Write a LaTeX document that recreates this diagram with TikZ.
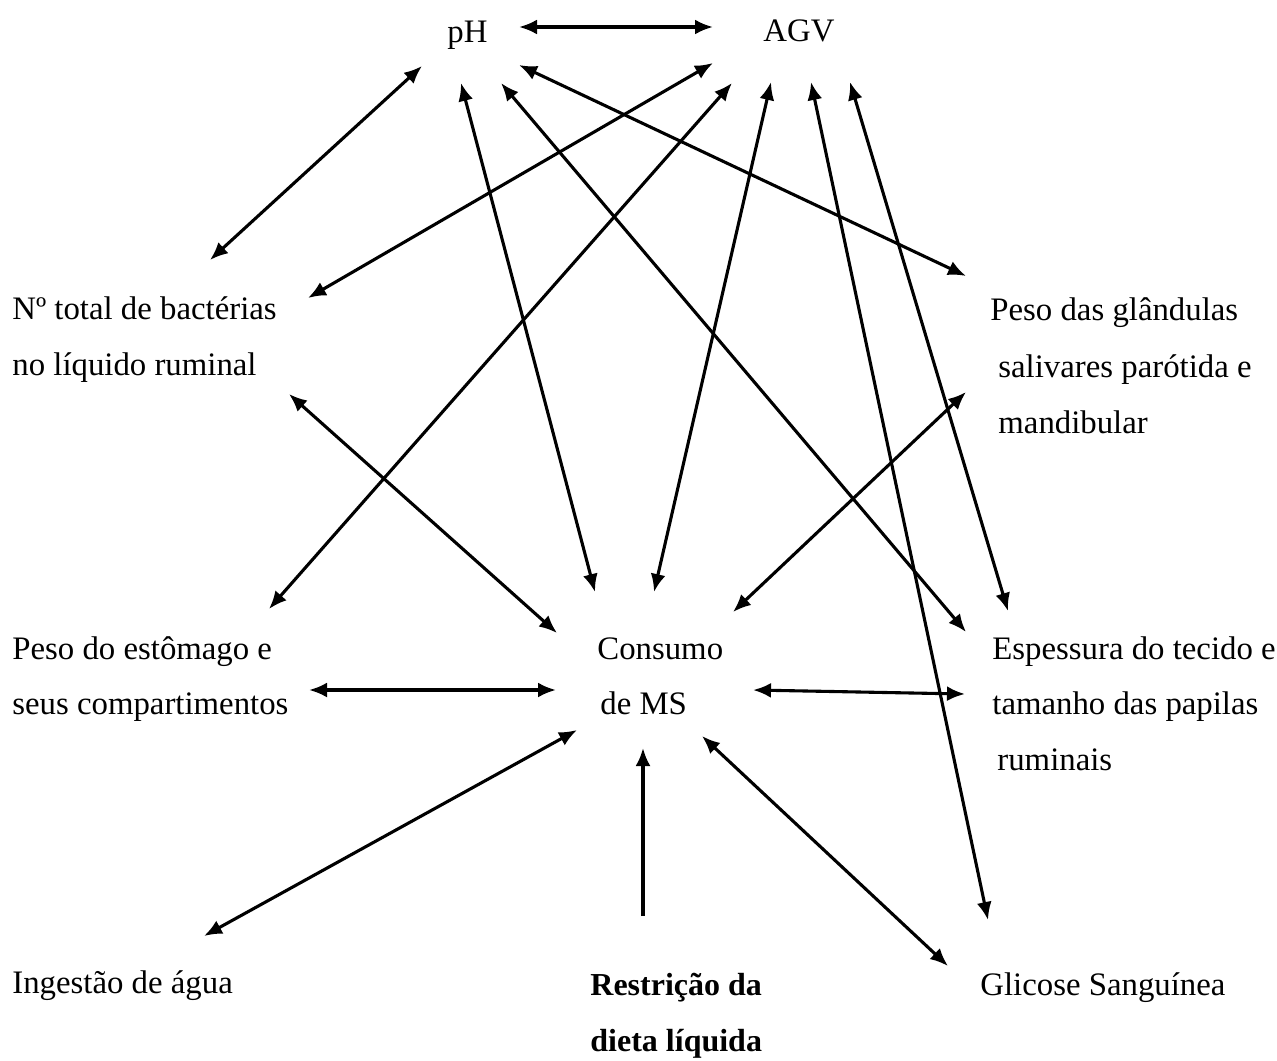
\documentclass[tikz,border=0pt]{standalone}
\usepackage{fontspec}
\setmainfont{Liberation Serif}
\usetikzlibrary{arrows.meta}
\tikzset{
  lbl/.style={inner sep=0pt, anchor=base west, font=\fontsize{16.4}{28}\selectfont},
  blbl/.style={lbl, font=\fontsize{16}{28}\selectfont\bfseries},
  ar/.style={line width=1.55pt, {Latex[length=9pt,width=7.5pt]}-{Latex[length=9pt,width=7.5pt]}},
  sar/.style={line width=1.55pt, -{Latex[length=9pt,width=7.5pt]}}
}
\begin{document}
\begin{tikzpicture}[x=0.5pt,y=-0.5pt]
\useasboundingbox (0,0) rectangle (1277,1060);
% labels
\node[lbl] (ph) at (447,42) {pH};
\node[lbl] (agv) at (763,41) {AGV};
\node[lbl] (nt1) at (12,319) {Nº total de bactérias};
\node[lbl] (nt2) at (12,375) {no líquido ruminal};
\node[lbl] (gl1) at (990,320) {Peso das glândulas};
\node[lbl] (gl2) at (998,377) {salivares parótida e};
\node[lbl] (gl3) at (998,433) {mandibular};
\node[lbl] (pe1) at (12,659) {Peso do estômago e};
\node[lbl] (pe2) at (12,714) {seus compartimentos};
\node[lbl] (cs1) at (597,659) {Consumo};
\node[lbl] (cs2) at (600,714) {de MS};
\node[lbl] (es1) at (992,659) {Espessura do tecido e};
\node[lbl] (es2) at (992,714) {tamanho das papilas};
\node[lbl] (es3) at (997,770) {ruminais};
\node[lbl] (ig) at (12,993) {Ingestão de água};
\node[blbl] (rd1) at (590,995) {Restrição da};
\node[blbl] (rd2) at (590,1051) {dieta líquida};
\node[lbl] (gs) at (980,995) {Glicose Sanguínea};
% connector ends
\coordinate (phE) at (519,27); \coordinate (agvW) at (713,27);
\coordinate (phSW) at (422,66); \coordinate (ntNE) at (210,260);
\coordinate (agvSW) at (713,63); \coordinate (ntE) at (308,298);
\coordinate (phS1) at (461,83); \coordinate (csN1) at (595,592);
\coordinate (phS2) at (501,83); \coordinate (esNW) at (966,632);
\coordinate (phSE) at (519,65); \coordinate (glW) at (966,276);
\coordinate (agvS1) at (732,83); \coordinate (peNE) at (269,609);
\coordinate (agvS2) at (771,82); \coordinate (csN2) at (654,592);
\coordinate (agvS3) at (811,82); \coordinate (gsN) at (988,920);
\coordinate (agvS4) at (850,82); \coordinate (esN) at (1008,611);
\coordinate (ntSE) at (289,394); \coordinate (csNW) at (557,633);
\coordinate (glSW) at (966,392); \coordinate (csNE) at (733,612);
\coordinate (peE) at (309,690); \coordinate (csW) at (556,690);
\coordinate (csE) at (753,690); \coordinate (esW) at (965,694);
\coordinate (csSW) at (577,730); \coordinate (igNE) at (204,936);
\coordinate (rdN) at (643,916); \coordinate (csS) at (643,748);
\coordinate (csSE) at (702,736); \coordinate (gsNW) at (948,966);
% connectors
\draw[ar] (phE) -- (agvW);
\draw[ar] (phSW) -- (ntNE);
\draw[ar] (agvSW) -- (ntE);
\draw[ar] (phS1) -- (csN1);
\draw[ar] (phS2) -- (esNW);
\draw[ar] (phSE) -- (glW);
\draw[ar] (agvS1) -- (peNE);
\draw[ar] (agvS2) -- (csN2);
\draw[ar] (agvS3) -- (gsN);
\draw[ar] (agvS4) -- (esN);
\draw[ar] (ntSE) -- (csNW);
\draw[ar] (glSW) -- (csNE);
\draw[ar] (peE) -- (csW);
\draw[ar] (csE) -- (esW);
\draw[ar] (csSW) -- (igNE);
\draw[sar] (rdN) -- (csS);
\draw[ar] (csSE) -- (gsNW);
\end{tikzpicture}
\end{document}
